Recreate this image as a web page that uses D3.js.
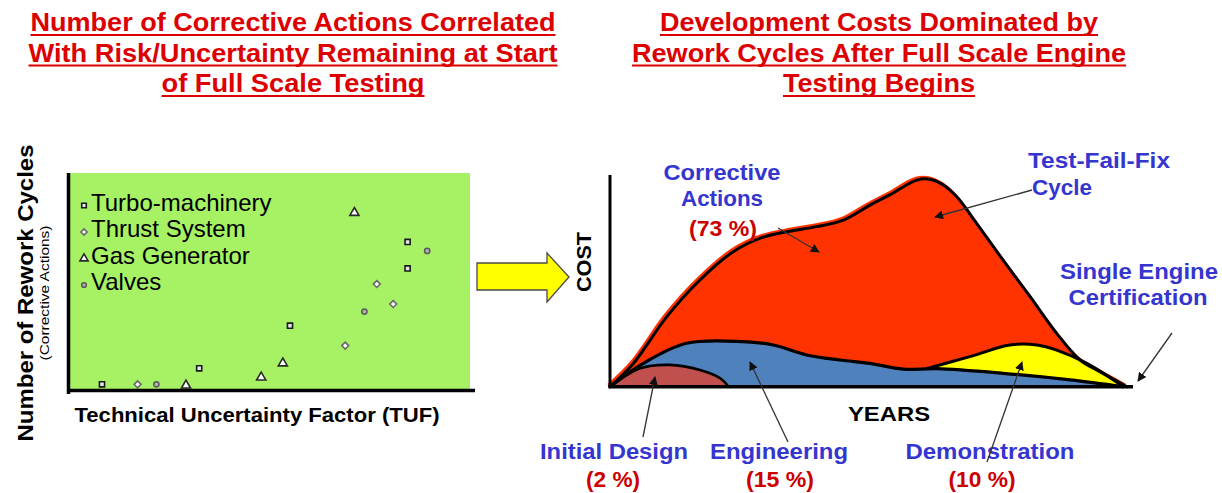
<!DOCTYPE html>
<html>
<head>
<meta charset="utf-8">
<script src="https://cdn.jsdelivr.net/npm/d3@7"></script>
<style>
  html, body { margin: 0; padding: 0; background: #fff; }
  svg { display: block; font-family: "Liberation Sans", Arial, Helvetica, sans-serif; }
</style>
</head>
<body>
<svg id="chart" width="1222" height="493"></svg>
<script>
// ---- Left panel: rework cycles vs. technical uncertainty factor ----
const scatterSeries = ["Turbo-machinery", "Thrust System", "Gas Generator", "Valves"];
const turboPoints  = [[0.8, 0.26], [3.23, 1.15], [5.5, 3.52], [8.44, 8.17], [8.44, 6.7]];
const thrustPoints = [[1.69, 0.26], [6.88, 2.41], [7.67, 5.83], [8.08, 4.72]];
const gasGenPoints = [[2.9, 0.2], [4.78, 0.65], [5.32, 1.43], [7.11, 9.79]];
const valvePoints  = [[2.16, 0.26], [7.36, 4.3], [8.93, 7.67]];

// ---- Right panel: development cost profile over years ----
const correctiveCurve = [[0, 0], [0.45, 11], [1.09, 33], [1.73, 50.4], [2.37, 63.8], [2.88, 70.1],
  [3.4, 73.2], [3.97, 75.6], [4.49, 78.7], [5.0, 85.8], [5.38, 90.6], [5.9, 97.6], [6.15, 98],
  [6.41, 95.3], [6.67, 89.7], [7.05, 77.2], [7.56, 59.8], [8.08, 42.5], [8.59, 25.2],
  [9.04, 12.6], [9.42, 7.1], [9.94, 0]];
const engineeringCurve = [[0, 0], [0.64, 11], [1.47, 20.5], [2.56, 21.3], [3.14, 19.7], [3.78, 15],
  [4.42, 12.6], [5.0, 11], [5.64, 8.3], [6.28, 8.5], [7.56, 6.3], [8.85, 3.2], [9.87, 0]];
const demonstrationCurve = [[6.1, 8.6], [6.92, 14.2], [7.69, 19.7], [8.21, 19.7], [8.59, 17.3],
  [9.17, 11.1], [9.87, 0]];
const initialDesignCurve = [[0, 0], [0.58, 8.7], [1.15, 10.3], [1.73, 7.9], [2.12, 4], [2.28, 0]];

const phaseLabels = ["Initial Design", "Engineering", "Demonstration"];
const phaseShares = ["(2 %)", "(15 %)", "(10 %)"];

const svg = d3.select("#chart");

const RED_TITLE = "#dc0000";
const BLUE_TEXT = "#3535d0";
const RED_TEXT = "#cc0000";

// text helper; fixed lengths keep the condensed slide lettering
function label(g, str, x, y, opts) {
  const t = g.append("text")
    .attr("x", x).attr("y", y)
    .attr("text-anchor", opts.anchor || "middle")
    .attr("font-size", opts.size)
    .attr("font-weight", opts.bold ? "bold" : "normal")
    .attr("fill", opts.fill || "#000")
    .text(str);
  if (opts.len) t.attr("textLength", opts.len).attr("lengthAdjust", "spacingAndGlyphs");
  if (opts.rotate) t.attr("transform", `rotate(${opts.rotate},${x},${y})`);
  return t;
}

function underlinedTitle(lines, cx, lens) {
  const g = svg.append("g");
  lines.forEach((s, i) => {
    const y = 31 + i * 30.5;
    label(g, s, cx, y, { size: 26.5, bold: true, fill: RED_TITLE, len: lens[i] });
    const w = lens[i];
    g.append("line")
      .attr("x1", cx - w / 2).attr("x2", cx + w / 2)
      .attr("y1", y + 4).attr("y2", y + 4)
      .attr("stroke", RED_TITLE).attr("stroke-width", 2);
  });
}

underlinedTitle(["Number of Corrective Actions Correlated",
                 "With Risk/Uncertainty Remaining at Start",
                 "of Full Scale Testing"], 293, [525, 529, 263]);
underlinedTitle(["Development Costs Dominated by",
                 "Rework Cycles After Full Scale Engine",
                 "Testing Begins"], 879, [438, 494, 192]);

// ================= Left scatter =================
const L = { x0: 70, x1: 470, y0: 389, y1: 173 };
const xTuf = d3.scaleLinear().domain([0, 10]).range([L.x0, L.x1]);
const yRework = d3.scaleLinear().domain([0, 12]).range([L.y0, L.y1]);

const left = svg.append("g");
left.append("rect")
  .attr("x", L.x0).attr("y", L.y1)
  .attr("width", L.x1 - L.x0).attr("height", L.y0 - L.y1)
  .attr("fill", "#a6f264");

const markerStyles = [
  { type: d3.symbolSquare,   size: 26, fill: "#e8e8e8", stroke: "#1a1a1a", sw: 1.6 },
  { type: d3.symbolDiamond2, size: 30, fill: "#ffffff", stroke: "#6a6a6a", sw: 1.6 },
  { type: d3.symbolTriangle, size: 36, fill: "#ffffff", stroke: "#2a2a2a", sw: 1.6 },
  { type: d3.symbolCircle,   size: 22, fill: "#b0b0b0", stroke: "#5a5a5a", sw: 1.5 }
];
const allSeries = [turboPoints, thrustPoints, gasGenPoints, valvePoints];

allSeries.forEach((pts, i) => {
  const st = markerStyles[i];
  left.append("g").selectAll("path").data(pts).join("path")
    .attr("d", d3.symbol().type(st.type).size(st.size))
    .attr("transform", d => `translate(${xTuf(d[0])},${yRework(d[1])})`)
    .attr("fill", st.fill).attr("stroke", st.stroke).attr("stroke-width", st.sw);
});

// legend
scatterSeries.forEach((name, i) => {
  const base = 210.5 + i * 26.5;
  const st = markerStyles[i];
  left.append("path")
    .attr("d", d3.symbol().type(st.type).size(st.size * 0.8))
    .attr("transform", `translate(84,${base - 5})`)
    .attr("fill", st.fill).attr("stroke", st.stroke).attr("stroke-width", st.sw);
  label(left, name, 91, base, { size: 24, anchor: "start" });
});

// axes (no ticks)
left.append("g").attr("transform", `translate(0,${L.y0 + 1.5})`)
  .call(d3.axisBottom(xTuf).tickValues([]).tickSizeOuter(0))
  .call(g => g.select(".domain").attr("stroke", "#000").attr("stroke-width", 3.5)
    .attr("d", `M${L.x0 - 2},0H${L.x1 + 5}`));
left.append("g").attr("transform", `translate(${L.x0 - 1.5},0)`)
  .call(d3.axisLeft(yRework).tickValues([]).tickSizeOuter(0))
  .call(g => g.select(".domain").attr("stroke", "#000").attr("stroke-width", 3.5)
    .attr("d", `M0,${L.y1}V${L.y0 + 5}`));

label(left, "Technical Uncertainty Factor (TUF)", 257, 422, { size: 21, bold: true, len: 365 });
label(left, "Number of Rework Cycles", 33, 293, { size: 22, bold: true, len: 297, rotate: -90 });
label(left, "(Corrective Actions)", 49, 293, { size: 12, len: 135, rotate: -90 });

// yellow block arrow between the panels
svg.append("path")
  .attr("d", "M477,263 L547,263 L547,253 L569,277 L547,302 L547,290 L477,290 Z")
  .attr("fill", "#ffff00").attr("stroke", "#4a4a4a").attr("stroke-width", 1.3)
  .attr("stroke-linejoin", "miter");

// ================= Right area chart =================
const R = { x0: 610, x1: 1130, y0: 386.7, y1: 175 };
const xYears = d3.scaleLinear().domain([0, 10]).range([R.x0, R.x1]);
const yCost = d3.scaleLinear().domain([0, 100]).range([R.y0, R.y1]);

const right = svg.append("g");
const curve = d3.curveCatmullRom.alpha(0.5);
const area = d3.area().x(d => xYears(d[0])).y0(yCost(0)).y1(d => yCost(d[1])).curve(curve);
const line = d3.line().x(d => xYears(d[0])).y(d => yCost(d[1])).curve(curve);

// slight red halo along the upper edge of the corrective-action region
right.append("path").datum(correctiveCurve).attr("d", line)
  .attr("fill", "none").attr("stroke", "#ff3300").attr("stroke-width", 3)
  .attr("transform", "translate(-1.6,-1.6)");
right.append("path").datum(correctiveCurve).attr("d", area).attr("fill", "#ff3300");
right.append("path").datum(demonstrationCurve).attr("d", area).attr("fill", "#ffff00");
right.append("path").datum(engineeringCurve).attr("d", area).attr("fill", "#4f81bd");
right.append("path").datum(initialDesignCurve).attr("d", area).attr("fill", "#c0504d");

[[correctiveCurve, 3], [demonstrationCurve, 3], [engineeringCurve, 3.2], [initialDesignCurve, 2.6]]
  .forEach(([c, w]) => {
    right.append("path").datum(c).attr("d", line)
      .attr("fill", "none").attr("stroke", "#000").attr("stroke-width", w)
      .attr("stroke-linejoin", "round").attr("stroke-linecap", "round");
  });

right.append("g").attr("transform", `translate(0,${R.y0})`)
  .call(d3.axisBottom(xYears).tickValues([]).tickSizeOuter(0))
  .call(g => g.select(".domain").attr("stroke", "#000").attr("stroke-width", 3.5)
    .attr("d", `M${R.x0 - 1.5},0H${R.x1 + 3}`));
right.append("g").attr("transform", `translate(${R.x0},0)`)
  .call(d3.axisLeft(yCost).tickValues([]).tickSizeOuter(0))
  .call(g => g.select(".domain").attr("stroke", "#000").attr("stroke-width", 3)
    .attr("d", `M0,${R.y1}V${R.y0}`));

label(right, "COST", 591, 262, { size: 20, bold: true, len: 60, rotate: -90 });
label(right, "YEARS", 889, 421, { size: 20, bold: true, len: 82 });

// annotation labels
label(right, "Corrective", 722, 180, { size: 22, bold: true, fill: BLUE_TEXT, len: 117 });
label(right, "Actions", 722, 206, { size: 22, bold: true, fill: BLUE_TEXT, len: 82 });
label(right, "(73 %)", 723, 236, { size: 22, bold: true, fill: RED_TEXT, len: 68 });
label(right, "Test-Fail-Fix", 1028, 168, { size: 22, bold: true, fill: BLUE_TEXT, anchor: "start", len: 142 });
label(right, "Cycle", 1032, 195, { size: 22, bold: true, fill: BLUE_TEXT, anchor: "start", len: 60 });
label(right, "Single Engine", 1139, 279, { size: 22, bold: true, fill: BLUE_TEXT, len: 158 });
label(right, "Certification", 1138, 305, { size: 22, bold: true, fill: BLUE_TEXT, len: 139 });

const phaseX = [614, 779, 990];
const phaseLen = [148, 138, 169];
const shareX = [613, 780, 982];
const shareLen = [54, 68, 67];
phaseLabels.forEach((s, i) => {
  label(right, s, phaseX[i], 459, { size: 22, bold: true, fill: BLUE_TEXT, len: phaseLen[i] });
  label(right, phaseShares[i], shareX[i], 487, { size: 22, bold: true, fill: RED_TEXT, len: shareLen[i] });
});

// pointer arrows
const defs = svg.append("defs");
defs.append("marker").attr("id", "head")
  .attr("viewBox", "0 0 10 10").attr("refX", 9).attr("refY", 5)
  .attr("markerWidth", 9).attr("markerHeight", 9).attr("markerUnits", "userSpaceOnUse")
  .attr("orient", "auto")
  .append("path").attr("d", "M0,0 L10,5 L0,10 Z").attr("fill", "#111");

const pointers = [
  [778, 228, 819, 252],
  [1032, 190, 935, 217],
  [1172, 333, 1138, 381],
  [643, 437, 655, 377],
  [788, 442, 750, 362],
  [987, 462, 1022, 362]
];
svg.append("g").selectAll("line").data(pointers).join("line")
  .attr("x1", d => d[0]).attr("y1", d => d[1])
  .attr("x2", d => d[2]).attr("y2", d => d[3])
  .attr("stroke", "#333").attr("stroke-width", 1.3)
  .attr("marker-end", "url(#head)");
</script>
</body>
</html>
